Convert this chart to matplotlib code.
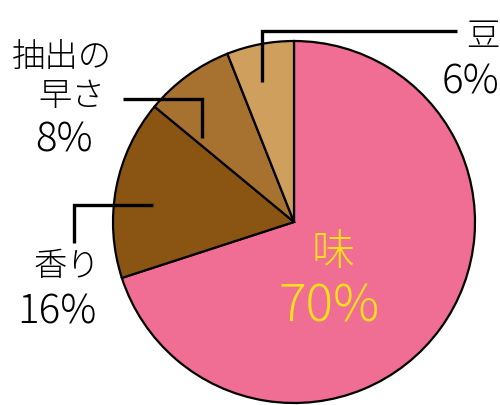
import matplotlib
matplotlib.use("Agg")
import matplotlib.pyplot as plt

plt.rcParams['font.family'] = ['Noto Sans CJK JP', 'DejaVu Sans']
plt.rcParams['font.weight'] = 'light'

# data
labels = ['味', '香り', '抽出の\n早さ', '豆']
values = [70, 16, 8, 6]
colors = ['#F06D93', '#8A5512', '#A7712F', '#CF9F5E']

W, H = 500, 405
CX, CY, R = 294, 222, 181


def fy(y):
    # image rows -> axes y (origin bottom)
    return H - y


fig = plt.figure(figsize=(W / 100, H / 100), dpi=100)
ax = fig.add_axes([0, 0, 1, 1])
ax.pie(values, colors=colors, startangle=90, counterclock=False,
       center=(CX, fy(CY)), radius=R,
       wedgeprops=dict(edgecolor='black', linewidth=1.6))
ax.set_xlim(0, W)
ax.set_ylim(0, H)
ax.set_aspect('equal')
ax.axis('off')

# leader lines
lw = 2.4
leaders = [
    [(262, 82), (262, 31), (457, 31)],
    [(123, 99), (202, 99), (202, 138)],
    [(153, 205), (74, 205), (74, 243)],
]
for pts in leaders:
    ax.plot([p[0] for p in pts], [fy(p[1]) for p in pts], color='black',
            lw=lw, solid_capstyle='butt', solid_joinstyle='miter')

fs = 24
pfs = 29
pct = ['%d%%' % v for v in values]
ax.text(333, fy(252), labels[0], fontsize=31, color='#FFE01A', ha='center', va='center')
ax.text(329, fy(307), pct[0], fontsize=37, color='#FFE01A', ha='center', va='center')

ax.text(67, fy(267), labels[1], fontsize=fs, ha='center', va='center')
ax.text(57, fy(313), pct[1], fontsize=pfs, ha='center', va='center')

ax.text(62, fy(58), '抽出の', fontsize=fs, ha='center', va='center')
ax.text(72, fy(97), '早さ', fontsize=fs, ha='center', va='center')
ax.text(64, fy(140), pct[2], fontsize=pfs, ha='center', va='center')

ax.text(483, fy(37), labels[3], fontsize=fs, ha='center', va='center')
ax.text(471, fy(82), pct[3], fontsize=pfs, ha='center', va='center')

fig.savefig('out.png', dpi=100)
